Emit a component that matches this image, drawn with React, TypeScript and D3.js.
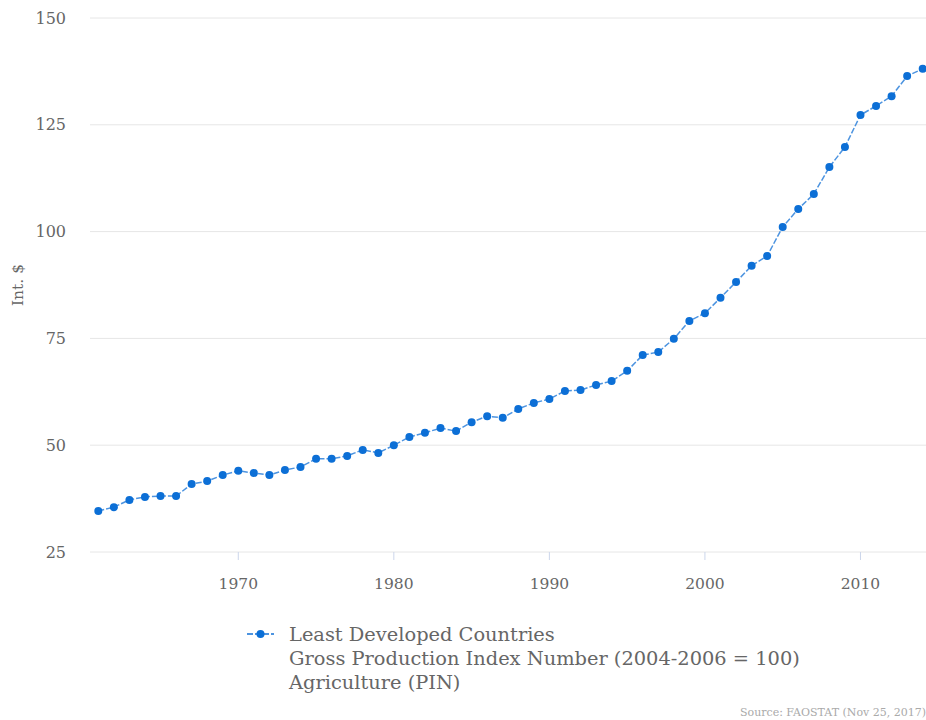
import React from "react";
import * as d3 from "d3";

const years: number[] = d3.range(1961, 2015);
const values: number[] = [
  34.6, 35.5, 37.2, 37.9, 38.1, 38.1, 40.9, 41.6, 43.0, 44.0,
  43.5, 43.0, 44.2, 44.9, 46.8, 46.8, 47.5, 48.9, 48.2, 50.0,
  51.9, 52.9, 54.0, 53.3, 55.4, 56.8, 56.4, 58.5, 59.9, 60.8,
  62.7, 62.9, 64.1, 65.0, 67.4, 71.1, 71.8, 74.9, 79.1, 80.9,
  84.5, 88.2, 92.0, 94.3, 101.1, 105.3, 108.8, 115.1, 119.8, 127.3,
  129.4, 131.7, 136.4, 138.1,
];
const yTicks: number[] = [25, 50, 75, 100, 125, 150];
const xTicks: number[] = [1970, 1980, 1990, 2000, 2010];
const legendLines: string[] = [
  "Least Developed Countries",
  "Gross Production Index Number (2004-2006 = 100)",
  "Agriculture (PIN)",
];
const yTitle = "Int. $";
const sourceText = "Source: FAOSTAT (Nov 25, 2017)";

const W = 926;
const H = 720;
const font = "'DejaVu Serif', serif";

export default function App() {
  const x = d3.scaleLinear().domain([1961, 2014]).range([98.3, 922.7]);
  const y = d3.scaleLinear().domain([25, 150]).range([552, 18]);
  const data = years.map((yr, i) => ({ yr, v: values[i] }));
  const line = d3
    .line<{ yr: number; v: number }>()
    .x((d) => x(d.yr))
    .y((d) => y(d.v));
  const lineColor = "#4d94e0";
  const dotColor = "#0c6fd6";
  return (
    <svg
      width={W}
      height={H}
      style={{ position: "absolute", left: 0, top: 0, background: "#fff" }}
      fontFamily={font}
    >
      {yTicks.map((t) => (
        <g key={t}>
          <line x1={90} x2={W} y1={y(t)} y2={y(t)} stroke="#e6e6e6" strokeWidth={1} />
          <text x={66} y={y(t)} dy="0.35em" textAnchor="end" fontSize={16} fill="#666">
            {t}
          </text>
        </g>
      ))}
      {xTicks.map((t) => (
        <g key={t}>
          <line x1={x(t)} x2={x(t)} y1={552} y2={560} stroke="#ccd6eb" strokeWidth={1} />
          <text x={x(t)} y={584} dy="0.35em" textAnchor="middle" fontSize={15.5} fill="#666">
            {t}
          </text>
        </g>
      ))}
      <text
        transform={`translate(18,285) rotate(-90)`}
        textAnchor="middle"
        dy="0.35em"
        fontSize={15.5}
        fill="#666"
      >
        {yTitle}
      </text>
      <path
        d={line(data) || ""}
        fill="none"
        stroke={lineColor}
        strokeWidth={1.5}
        strokeDasharray="6,2"
      />
      {data.map((d) => (
        <circle key={d.yr} cx={x(d.yr)} cy={y(d.v)} r={4} fill={dotColor} />
      ))}
      <g>
        <line x1={247} x2={274} y1={634} y2={634} stroke={lineColor} strokeWidth={2} strokeDasharray="6,2" />
        <circle cx={260.5} cy={634} r={4} fill={dotColor} />
        {legendLines.map((s, i) => (
          <text key={i} x={289} y={634 + i * 24} dy="0.35em" fontSize={19.4} fill="#666">
            {s}
          </text>
        ))}
      </g>
      <text x={740} y={712} dy="0.35em" fontSize={11} fill="#aaa">
        {sourceText}
      </text>
    </svg>
  );
}
